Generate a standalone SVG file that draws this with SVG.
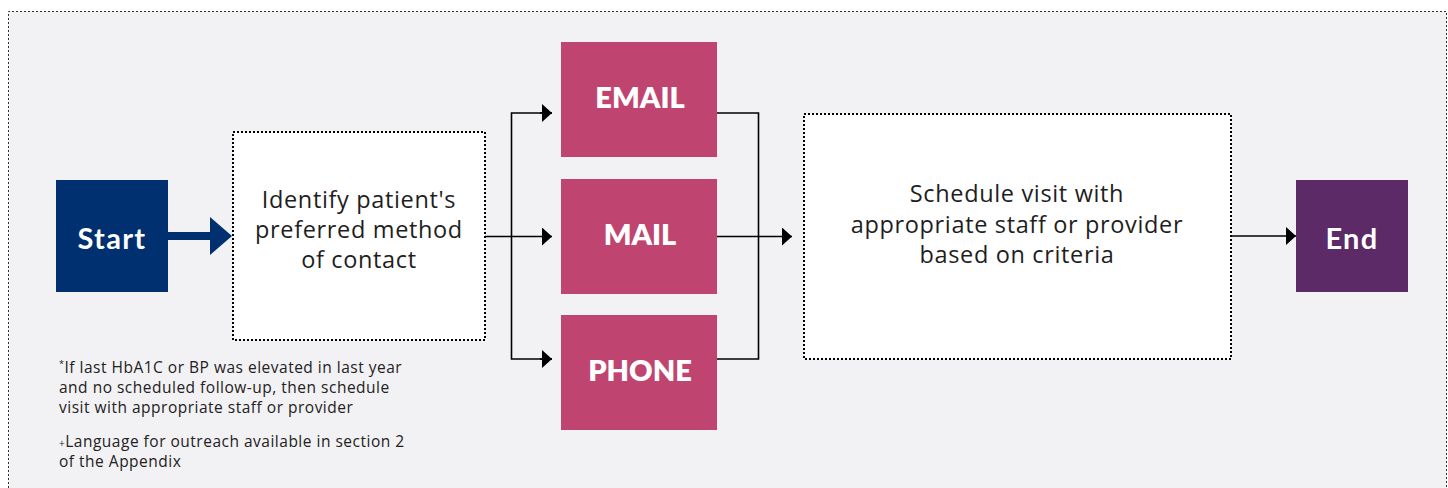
<svg xmlns="http://www.w3.org/2000/svg" width="1448" height="488" viewBox="0 0 1448 488">
  <style>
    .frame { fill: none; stroke: #333; stroke-width: 1; stroke-dasharray: 2 2; }
    .step { fill: #ffffff; stroke: #000; stroke-width: 2; stroke-dasharray: 2 2; }
    .step-text { font-family: "Open Sans", Lato, sans-serif; font-size: 23.5px; letter-spacing: 0.65px; fill: #1e1e1e; text-anchor: middle; }
    .term-text { font-family: Lato, "Open Sans", sans-serif; font-weight: 700; font-size: 29px; letter-spacing: 1.3px; fill: #ffffff; text-anchor: middle; }
    .method { fill: #c04470; }
    .method-text { font-family: Lato, "Open Sans", sans-serif; font-weight: 800; font-size: 29px; fill: #ffffff; text-anchor: middle; }
    .note { font-family: "Open Sans", Lato, sans-serif; font-size: 15.5px; letter-spacing: 0.5px; fill: #222; }
    .link { fill: none; stroke: #000; stroke-width: 1.6; }
  </style>
  <defs>
    <marker id="head" viewBox="0 0 10 18" refX="10" refY="9" markerWidth="10" markerHeight="18" markerUnits="userSpaceOnUse" orient="auto">
      <path d="M0,0 L10,9 L0,18 Z" fill="#000"/>
    </marker>
  </defs>

  <!-- panel -->
  <rect x="8" y="11" width="1439" height="477" fill="#f2f1f4"/>
  <path class="frame" d="M8.5,488 V11.5 H1446.5 V488"/>

  <!-- connectors -->
  <g id="connectors">
    <line x1="168" y1="236" x2="211" y2="236" stroke="#00306f" stroke-width="8"/>
    <path d="M210,217 L232,236 L210,255 Z" fill="#00306f"/>
    <line class="link" x1="485" y1="236.5" x2="552" y2="236.5" marker-end="url(#head)"/>
    <path class="link" d="M552,113 H511.5 V359 H552" />
    <line class="link" x1="540" y1="113" x2="552" y2="113" marker-end="url(#head)"/>
    <line class="link" x1="540" y1="359" x2="552" y2="359" marker-end="url(#head)"/>
    <path class="link" d="M717,113 H758.5 V359 H717"/>
    <line class="link" x1="717" y1="236.5" x2="792" y2="236.5" marker-end="url(#head)"/>
    <line class="link" x1="1231" y1="236" x2="1296" y2="236" marker-end="url(#head)"/>
  </g>

  <g id="start">
    <rect x="56" y="180" width="112" height="112" fill="#00306f"/>
    <text class="term-text" x="112" y="249">Start</text>
  </g>

  <g id="identify">
    <rect class="step" x="233" y="132" width="252" height="208"/>
    <text class="step-text" x="359" y="208">Identify patient's</text>
    <text class="step-text" x="359" y="238">preferred method</text>
    <text class="step-text" x="359" y="268">of contact</text>
  </g>

  <g id="email">
    <rect class="method" x="561" y="42" width="156" height="115"/>
    <text class="method-text" x="640" y="108">EMAIL</text>
  </g>

  <g id="mail">
    <rect class="method" x="561" y="179" width="156" height="115"/>
    <text class="method-text" x="640" y="245">MAIL</text>
  </g>

  <g id="phone">
    <rect class="method" x="561" y="315" width="156" height="115"/>
    <text class="method-text" x="640" y="381">PHONE</text>
  </g>

  <g id="schedule">
    <rect class="step" x="804" y="114" width="427" height="245"/>
    <text class="step-text" x="1017" y="202">Schedule visit with</text>
    <text class="step-text" x="1017" y="233">appropriate staff or provider</text>
    <text class="step-text" x="1017" y="263">based on criteria</text>
  </g>

  <g id="end">
    <rect x="1296" y="180" width="112" height="112" fill="#5c2a66"/>
    <text class="term-text" x="1352" y="249">End</text>
  </g>

  <g id="notes">
    <text class="note" x="59" y="373"><tspan font-size="9" dy="-6">*</tspan><tspan dy="6">If last HbA1C or BP was elevated in last year</tspan></text>
    <text class="note" x="59" y="393">and no scheduled follow-up, then schedule</text>
    <text class="note" x="59" y="413">visit with appropriate staff or provider</text>
    <text class="note" x="59" y="447"><tspan font-size="10">+</tspan>Language for outreach available in section 2</text>
    <text class="note" x="59" y="467">of the Appendix</text>
  </g>
</svg>
